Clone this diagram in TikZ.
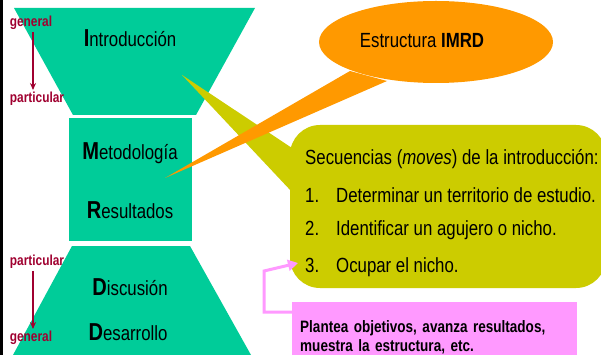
\documentclass[tikz,border=0pt]{standalone}
\usepackage{fontspec}
\setmainfont[FakeStretch=0.82]{Liberation Sans}
\usepackage{tikz}
\usetikzlibrary{arrows,arrows.meta,shapes,positioning}
\definecolor{imgreen}{RGB}{0,204,153}
\definecolor{imorange}{RGB}{255,153,0}
\definecolor{imolive}{RGB}{204,204,0}
\definecolor{impink}{RGB}{255,153,255}
\definecolor{imred}{RGB}{160,0,48}
\tikzstyle{arrow} = [line width=2.2pt,-{Stealth[length=7pt,width=6pt]},color=imred]
\newcommand{\bigletter}[1]{{\fontsize{24.5}{26}\selectfont\bfseries #1}}

\begin{document}
\begin{tikzpicture}[
    x=1pt, y=-1pt,
    section/.style={font=\fontsize{20.5}{24}\selectfont, inner sep=0pt},
    scalelabel/.style={font=\fontsize{14.5}{16}\selectfont\bfseries, text=imred, inner sep=0pt},
    move/.style={font=\fontsize{20.5}{24}\selectfont, inner sep=0pt, anchor=west},
    bubbletext/.style={font=\fontsize{20.5}{24}\selectfont, inner sep=0pt},
    note/.style={rectangle, fill=impink, align=left, text width=269pt, inner xsep=8pt, minimum height=70pt, font=\fontsize{16.5}{19}\selectfont\bfseries},
    link/.style={-{Triangle[length=10pt,width=11pt]}, impink, line width=3pt}
]
\useasboundingbox (0,0) rectangle (601,355);
\fill[white] (0,0) rectangle (601,355);

% Hourglass
\fill[imgreen] (14,8) -- (255,8) -- (196,115) -- (73,115) -- cycle;
\fill[imgreen] (69,118) rectangle (192,241);
\fill[imgreen] (72,246) -- (190,246) -- (251,355) -- (13,355) -- cycle;
\draw[line width=2.5pt] (1.5,0) -- (1.5,355);

\node (intro) [section] at (130,38) {\bigletter{I}ntroducción};
\node (metodo) [section] at (130,153) {\bigletter{M}etodología};
\node (result) [section] at (130,210) {\bigletter{R}esultados};
\node (discu) [section] at (130,287) {\bigletter{D}iscusión};
\node (desarr) [section] at (128,332) {\bigletter{D}esarrollo};

% Scale labels
\node (gentop) [scalelabel] at (31,23) {general};
\node (parttop) [scalelabel] at (37,99) {particular};
\node (partbot) [scalelabel] at (37,262) {particular};
\node (genbot) [scalelabel] at (31,338) {general};
\draw[arrow] ([xshift=2pt,yshift=-2pt]gentop.south) -- ([xshift=2pt,yshift=2pt]gentop.south |- parttop.north);
\draw[arrow] ([xshift=-4pt,yshift=-2pt]partbot.south) -- ([xshift=-4pt,yshift=2pt]partbot.south |- genbot.north);

% Moves callout
\fill[imolive] (182,75) -- (292,148) -- (292,192) -- cycle;
\fill[imolive, rounded corners=30pt] (290,125) rectangle (606,288);
\node (moves) [move] at (305,159) {Secuencias (\textit{moves}) de la introducción:};
\node (step1) [move] at (305,195) {\makebox[31pt][l]{1.}Determinar un territorio de estudio.};
\node (step2) [move] at (305,230) {\makebox[31pt][l]{2.}Identificar un agujero o nicho.};
\node (step3) [move] at (305,267) {\makebox[31pt][l]{3.}Ocupar el nicho.};

% IMRD bubble
\fill[imorange] (350,71) -- (165,178) -- (387,81) -- cycle;
\fill[imorange] (436,42) ellipse [x radius=117, y radius=41];
\node (imrd) [bubbletext] at (422,41) {Estructura \textbf{IMRD}};

% Note
\node (plan) [note, anchor=north west] at (292,302) {Plantea objetivos, avanza resultados,\\muestra la estructura, etc.};
\coordinate (bend) at (264,271);
\coordinate (nicho) at (298,263);
\draw[link] ([yshift=-10pt]plan.north west) -| (bend) -- (nicho);
\end{tikzpicture}
\end{document}
